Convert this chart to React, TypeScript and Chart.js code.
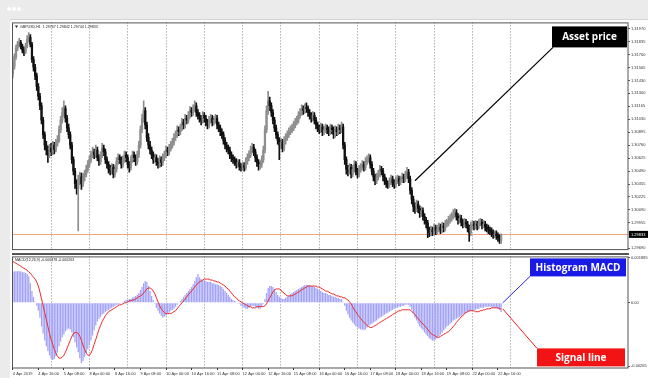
import React, { useEffect, useRef } from "react";
import { Chart, registerables } from "chart.js";
Chart.register(...registerables);

// ---------- axis / label data ----------
const SLOT_COUNT = 386; // hourly slots on the x axis (data + right-hand shift)
const tickBars = [0, 16, 32, 48, 64, 80, 96, 112, 128, 144, 160, 176, 192, 208, 224, 240, 256, 272, 288, 304];
const tickLabels = [
  "4 Apr 2019", "4 Apr 16:00", "5 Apr 08:00", "8 Apr 00:00", "8 Apr 16:00", "9 Apr 08:00",
  "10 Apr 00:00", "10 Apr 16:00", "11 Apr 08:00", "12 Apr 00:00", "12 Apr 16:00", "15 Apr 08:00",
  "16 Apr 00:00", "16 Apr 16:00", "17 Apr 08:00", "18 Apr 00:00", "18 Apr 16:00", "19 Apr 08:00",
  "22 Apr 00:00", "22 Apr 16:00",
];
const dayStartBars = [24, 48, 72, 96, 120, 144, 168, 192, 216, 240, 264, 288, 312];
const priceTicks = [1.3197, 1.31835, 1.317, 1.31565, 1.3143, 1.313, 1.31165, 1.3103, 1.30895, 1.3076, 1.30625, 1.3049, 1.30355, 1.30225, 1.3009, 1.29955, 1.2969];
const macdTicks = [0.001885, 0, -0.00265];
const macdTickLabels = ["0.001885", "0.00", "-0.00265"];
const currentPrice = 1.29833;
const symbolLabel = "GBPUSD,H1  1.29767 1.29842 1.29744 1.29833";
const macdLabel = "MACD(12,26,9) -0.000378 -0.000263";
const assetAnchorBar = 252;
const assetAnchorPrice = 1.3039;
const histAnchorBar = 307;
const histAnchorValue = 0;
const signalAnchorBar = 307;
const signalAnchorValue = -0.00025;

// ---------- GBPUSD H1 candles ----------
const opens = [
  1.3150, 1.3158, 1.3168, 1.3177, 1.3181, 1.3183, 1.3179, 1.3175, 1.3173, 1.3179,
  1.3186, 1.3188, 1.3181, 1.3165, 1.3157, 1.3148, 1.3137, 1.3127, 1.3117, 1.3102,
  1.3087, 1.3076, 1.3071, 1.3066, 1.3073, 1.3069, 1.3076, 1.3071, 1.3078, 1.3081,
  1.3092, 1.3102, 1.3110, 1.3114, 1.3104, 1.3094, 1.3087, 1.3076, 1.3061, 1.3049,
  1.3036, 1.3031, 1.3041, 1.3043, 1.3036, 1.3043, 1.3046, 1.3051, 1.3056, 1.3061,
  1.3066, 1.3069, 1.3066, 1.3071, 1.3063, 1.3059, 1.3066, 1.3073, 1.3069, 1.3061,
  1.3056, 1.3051, 1.3049, 1.3053, 1.3046, 1.3051, 1.3059, 1.3063, 1.3061, 1.3056,
  1.3061, 1.3066, 1.3063, 1.3056, 1.3053, 1.3061, 1.3066, 1.3063, 1.3059, 1.3066,
  1.3076, 1.3092, 1.3104, 1.3112, 1.3097, 1.3084, 1.3076, 1.3071, 1.3066, 1.3061,
  1.3063, 1.3059, 1.3056, 1.3061, 1.3058, 1.3063, 1.3066, 1.3071, 1.3069, 1.3073,
  1.3076, 1.3079, 1.3084, 1.3087, 1.3092, 1.3090, 1.3094, 1.3100, 1.3097, 1.3104,
  1.3102, 1.3107, 1.3112, 1.3110, 1.3114, 1.3117, 1.3110, 1.3107, 1.3104, 1.3102,
  1.3107, 1.3104, 1.3100, 1.3097, 1.3102, 1.3104, 1.3100, 1.3102, 1.3104, 1.3097,
  1.3094, 1.3090, 1.3087, 1.3081, 1.3076, 1.3073, 1.3071, 1.3066, 1.3063, 1.3061,
  1.3059, 1.3056, 1.3058, 1.3054, 1.3053, 1.3055, 1.3053, 1.3059, 1.3063, 1.3066,
  1.3071, 1.3074, 1.3069, 1.3063, 1.3058, 1.3054, 1.3056, 1.3061, 1.3071, 1.3092,
  1.3112, 1.3122, 1.3117, 1.3110, 1.3102, 1.3094, 1.3087, 1.3081, 1.3076, 1.3079,
  1.3073, 1.3081, 1.3084, 1.3087, 1.3090, 1.3092, 1.3094, 1.3097, 1.3100, 1.3102,
  1.3107, 1.3110, 1.3114, 1.3112, 1.3115, 1.3114, 1.3110, 1.3107, 1.3104, 1.3107,
  1.3102, 1.3097, 1.3094, 1.3092, 1.3095, 1.3090, 1.3092, 1.3094, 1.3092, 1.3090,
  1.3094, 1.3092, 1.3087, 1.3092, 1.3090, 1.3094, 1.3092, 1.3095, 1.3076, 1.3061,
  1.3051, 1.3049, 1.3053, 1.3046, 1.3051, 1.3056, 1.3049, 1.3046, 1.3051, 1.3053,
  1.3056, 1.3053, 1.3059, 1.3061, 1.3063, 1.3056, 1.3049, 1.3043, 1.3039, 1.3043,
  1.3046, 1.3051, 1.3049, 1.3043, 1.3039, 1.3036, 1.3035, 1.3038, 1.3041, 1.3037,
  1.3035, 1.3039, 1.3041, 1.3038, 1.3040, 1.3043, 1.3041, 1.3045, 1.3048, 1.3041,
  1.3029, 1.3020, 1.3012, 1.3010, 1.3015, 1.3010, 1.3005, 1.3008, 1.3002, 1.2998,
  1.2995, 1.2988, 1.2985, 1.2988, 1.2986, 1.2990, 1.2987, 1.2989, 1.2991, 1.2988,
  1.2992, 1.2990, 1.2994, 1.2995, 1.2998, 1.3000, 1.3002, 1.3005, 1.3006, 1.3002,
  1.2998, 1.3000, 1.2996, 1.2994, 1.2996, 1.2994, 1.2990, 1.2985, 1.2992, 1.2994,
  1.2992, 1.2994, 1.2992, 1.2995, 1.2996, 1.2993, 1.2994, 1.2991, 1.2990, 1.2988,
  1.2987, 1.2985, 1.2983, 1.2984, 1.2982, 1.2980, 1.2977,
];
const highs = [
  1.3162, 1.3171, 1.3180, 1.3184, 1.3187, 1.3185, 1.3181, 1.3178, 1.3182, 1.3190,
  1.3193, 1.3191, 1.3183, 1.3168, 1.3160, 1.3151, 1.3140, 1.3130, 1.3120, 1.3105,
  1.3090, 1.3080, 1.3075, 1.3077, 1.3078, 1.3080, 1.3079, 1.3082, 1.3086, 1.3096,
  1.3106, 1.3115, 1.3122, 1.3117, 1.3107, 1.3098, 1.3090, 1.3079, 1.3064, 1.3052,
  1.3040, 1.3045, 1.3048, 1.3047, 1.3047, 1.3050, 1.3055, 1.3060, 1.3065, 1.3070,
  1.3074, 1.3072, 1.3076, 1.3074, 1.3066, 1.3069, 1.3078, 1.3076, 1.3072, 1.3064,
  1.3059, 1.3055, 1.3057, 1.3056, 1.3055, 1.3063, 1.3067, 1.3066, 1.3064, 1.3065,
  1.3070, 1.3069, 1.3066, 1.3059, 1.3065, 1.3070, 1.3069, 1.3066, 1.3070, 1.3080,
  1.3096, 1.3108, 1.3122, 1.3115, 1.3100, 1.3088, 1.3080, 1.3074, 1.3069, 1.3067,
  1.3066, 1.3062, 1.3065, 1.3064, 1.3067, 1.3070, 1.3075, 1.3074, 1.3077, 1.3080,
  1.3083, 1.3088, 1.3091, 1.3096, 1.3095, 1.3098, 1.3104, 1.3103, 1.3108, 1.3107,
  1.3111, 1.3116, 1.3115, 1.3118, 1.3122, 1.3120, 1.3113, 1.3110, 1.3107, 1.3111,
  1.3110, 1.3107, 1.3103, 1.3106, 1.3108, 1.3107, 1.3106, 1.3108, 1.3107, 1.3100,
  1.3097, 1.3093, 1.3090, 1.3084, 1.3079, 1.3076, 1.3074, 1.3069, 1.3066, 1.3064,
  1.3062, 1.3061, 1.3061, 1.3057, 1.3058, 1.3058, 1.3063, 1.3067, 1.3070, 1.3075,
  1.3078, 1.3077, 1.3072, 1.3066, 1.3061, 1.3060, 1.3065, 1.3075, 1.3096, 1.3117,
  1.3132, 1.3126, 1.3120, 1.3113, 1.3105, 1.3097, 1.3090, 1.3084, 1.3083, 1.3082,
  1.3085, 1.3088, 1.3091, 1.3094, 1.3096, 1.3098, 1.3101, 1.3104, 1.3106, 1.3111,
  1.3114, 1.3118, 1.3117, 1.3119, 1.3120, 1.3117, 1.3113, 1.3110, 1.3111, 1.3110,
  1.3105, 1.3100, 1.3097, 1.3099, 1.3098, 1.3096, 1.3098, 1.3097, 1.3095, 1.3098,
  1.3097, 1.3095, 1.3096, 1.3095, 1.3098, 1.3097, 1.3100, 1.3098, 1.3079, 1.3064,
  1.3055, 1.3057, 1.3056, 1.3055, 1.3060, 1.3059, 1.3052, 1.3055, 1.3057, 1.3060,
  1.3059, 1.3063, 1.3065, 1.3067, 1.3066, 1.3059, 1.3052, 1.3046, 1.3047, 1.3050,
  1.3055, 1.3054, 1.3052, 1.3046, 1.3042, 1.3039, 1.3042, 1.3045, 1.3044, 1.3040,
  1.3043, 1.3045, 1.3044, 1.3044, 1.3047, 1.3046, 1.3049, 1.3053, 1.3051, 1.3044,
  1.3032, 1.3023, 1.3016, 1.3019, 1.3018, 1.3013, 1.3012, 1.3011, 1.3005, 1.3001,
  1.2998, 1.2991, 1.2992, 1.2991, 1.2994, 1.2993, 1.2993, 1.2995, 1.2994, 1.2996,
  1.2995, 1.2998, 1.2999, 1.3002, 1.3004, 1.3006, 1.3009, 1.3010, 1.3009, 1.3005,
  1.3004, 1.3003, 1.2999, 1.3000, 1.2999, 1.2997, 1.2993, 1.2996, 1.2998, 1.2997,
  1.2998, 1.2997, 1.2999, 1.3000, 1.2999, 1.2998, 1.2997, 1.2994, 1.2993, 1.2991,
  1.2990, 1.2988, 1.2987, 1.2987, 1.2985, 1.2983, 1.2984,
];
const lows = [
  1.3146, 1.3155, 1.3165, 1.3174, 1.3178, 1.3176, 1.3172, 1.3169, 1.3171, 1.3177,
  1.3183, 1.3178, 1.3162, 1.3153, 1.3144, 1.3133, 1.3123, 1.3113, 1.3098, 1.3083,
  1.3071, 1.3066, 1.3058, 1.3063, 1.3065, 1.3066, 1.3067, 1.3069, 1.3075, 1.3079,
  1.3089, 1.3099, 1.3106, 1.3100, 1.3090, 1.3083, 1.3072, 1.3057, 1.3045, 1.3031,
  1.3025, 1.2987, 1.3035, 1.3030, 1.3033, 1.3039, 1.3043, 1.3048, 1.3053, 1.3058,
  1.3063, 1.3062, 1.3063, 1.3060, 1.3055, 1.3056, 1.3063, 1.3065, 1.3057, 1.3052,
  1.3047, 1.3045, 1.3046, 1.3042, 1.3043, 1.3048, 1.3056, 1.3057, 1.3052, 1.3053,
  1.3058, 1.3059, 1.3052, 1.3048, 1.3050, 1.3058, 1.3059, 1.3055, 1.3056, 1.3063,
  1.3073, 1.3089, 1.3100, 1.3093, 1.3080, 1.3072, 1.3067, 1.3062, 1.3057, 1.3058,
  1.3055, 1.3052, 1.3053, 1.3054, 1.3055, 1.3060, 1.3063, 1.3065, 1.3066, 1.3070,
  1.3073, 1.3076, 1.3081, 1.3084, 1.3086, 1.3087, 1.3091, 1.3093, 1.3094, 1.3098,
  1.3099, 1.3104, 1.3106, 1.3107, 1.3111, 1.3106, 1.3103, 1.3100, 1.3097, 1.3099,
  1.3100, 1.3096, 1.3093, 1.3094, 1.3099, 1.3096, 1.3097, 1.3099, 1.3093, 1.3090,
  1.3086, 1.3083, 1.3077, 1.3072, 1.3069, 1.3067, 1.3062, 1.3059, 1.3057, 1.3055,
  1.3052, 1.3053, 1.3050, 1.3049, 1.3050, 1.3049, 1.3050, 1.3056, 1.3060, 1.3063,
  1.3068, 1.3065, 1.3059, 1.3054, 1.3050, 1.3051, 1.3053, 1.3058, 1.3068, 1.3089,
  1.3108, 1.3112, 1.3106, 1.3098, 1.3090, 1.3083, 1.3077, 1.3061, 1.3072, 1.3069,
  1.3070, 1.3077, 1.3081, 1.3084, 1.3087, 1.3089, 1.3091, 1.3094, 1.3097, 1.3099,
  1.3104, 1.3107, 1.3108, 1.3109, 1.3110, 1.3106, 1.3103, 1.3100, 1.3101, 1.3098,
  1.3093, 1.3090, 1.3088, 1.3089, 1.3086, 1.3087, 1.3089, 1.3088, 1.3086, 1.3087,
  1.3088, 1.3083, 1.3084, 1.3086, 1.3087, 1.3088, 1.3089, 1.3072, 1.3056, 1.3046,
  1.3044, 1.3046, 1.3042, 1.3043, 1.3048, 1.3045, 1.3042, 1.3043, 1.3048, 1.3050,
  1.3049, 1.3050, 1.3056, 1.3058, 1.3052, 1.3045, 1.3039, 1.3035, 1.3036, 1.3040,
  1.3043, 1.3045, 1.3039, 1.3035, 1.3032, 1.3031, 1.3032, 1.3035, 1.3033, 1.3031,
  1.3032, 1.3036, 1.3034, 1.3035, 1.3037, 1.3037, 1.3038, 1.3042, 1.3037, 1.3025,
  1.3015, 1.3007, 1.3005, 1.3007, 1.3006, 1.3001, 1.3002, 1.2998, 1.2994, 1.2990,
  1.2980, 1.2981, 1.2982, 1.2982, 1.2983, 1.2983, 1.2984, 1.2986, 1.2984, 1.2985,
  1.2986, 1.2987, 1.2991, 1.2992, 1.2995, 1.2997, 1.2999, 1.3001, 1.2998, 1.2994,
  1.2995, 1.2992, 1.2990, 1.2991, 1.2990, 1.2986, 1.2976, 1.2982, 1.2989, 1.2988,
  1.2989, 1.2988, 1.2989, 1.2992, 1.2989, 1.2990, 1.2987, 1.2986, 1.2984, 1.2983,
  1.2981, 1.2979, 1.2980, 1.2978, 1.2976, 1.2974, 1.2974,
];
const closes = [
  1.3158, 1.3168, 1.3177, 1.3181, 1.3183, 1.3179, 1.3175, 1.3173, 1.3179, 1.3186,
  1.3188, 1.3181, 1.3165, 1.3157, 1.3148, 1.3137, 1.3127, 1.3117, 1.3102, 1.3087,
  1.3076, 1.3071, 1.3066, 1.3073, 1.3069, 1.3076, 1.3071, 1.3078, 1.3081, 1.3092,
  1.3102, 1.3110, 1.3114, 1.3104, 1.3094, 1.3087, 1.3076, 1.3061, 1.3049, 1.3036,
  1.3031, 1.3041, 1.3043, 1.3036, 1.3043, 1.3046, 1.3051, 1.3056, 1.3061, 1.3066,
  1.3069, 1.3066, 1.3071, 1.3063, 1.3059, 1.3066, 1.3073, 1.3069, 1.3061, 1.3056,
  1.3051, 1.3049, 1.3053, 1.3046, 1.3051, 1.3059, 1.3063, 1.3061, 1.3056, 1.3061,
  1.3066, 1.3063, 1.3056, 1.3053, 1.3061, 1.3066, 1.3063, 1.3059, 1.3066, 1.3076,
  1.3092, 1.3104, 1.3112, 1.3097, 1.3084, 1.3076, 1.3071, 1.3066, 1.3061, 1.3063,
  1.3059, 1.3056, 1.3061, 1.3058, 1.3063, 1.3066, 1.3071, 1.3069, 1.3073, 1.3076,
  1.3079, 1.3084, 1.3087, 1.3092, 1.3090, 1.3094, 1.3100, 1.3097, 1.3104, 1.3102,
  1.3107, 1.3112, 1.3110, 1.3114, 1.3117, 1.3110, 1.3107, 1.3104, 1.3102, 1.3107,
  1.3104, 1.3100, 1.3097, 1.3102, 1.3104, 1.3100, 1.3102, 1.3104, 1.3097, 1.3094,
  1.3090, 1.3087, 1.3081, 1.3076, 1.3073, 1.3071, 1.3066, 1.3063, 1.3061, 1.3059,
  1.3056, 1.3058, 1.3054, 1.3053, 1.3055, 1.3053, 1.3059, 1.3063, 1.3066, 1.3071,
  1.3074, 1.3069, 1.3063, 1.3058, 1.3054, 1.3056, 1.3061, 1.3071, 1.3092, 1.3112,
  1.3122, 1.3117, 1.3110, 1.3102, 1.3094, 1.3087, 1.3081, 1.3076, 1.3079, 1.3073,
  1.3081, 1.3084, 1.3087, 1.3090, 1.3092, 1.3094, 1.3097, 1.3100, 1.3102, 1.3107,
  1.3110, 1.3114, 1.3112, 1.3115, 1.3114, 1.3110, 1.3107, 1.3104, 1.3107, 1.3102,
  1.3097, 1.3094, 1.3092, 1.3095, 1.3090, 1.3092, 1.3094, 1.3092, 1.3090, 1.3094,
  1.3092, 1.3087, 1.3092, 1.3090, 1.3094, 1.3092, 1.3095, 1.3076, 1.3061, 1.3051,
  1.3049, 1.3053, 1.3046, 1.3051, 1.3056, 1.3049, 1.3046, 1.3051, 1.3053, 1.3056,
  1.3053, 1.3059, 1.3061, 1.3063, 1.3056, 1.3049, 1.3043, 1.3039, 1.3043, 1.3046,
  1.3051, 1.3049, 1.3043, 1.3039, 1.3036, 1.3035, 1.3038, 1.3041, 1.3037, 1.3035,
  1.3039, 1.3041, 1.3038, 1.3040, 1.3043, 1.3041, 1.3045, 1.3048, 1.3041, 1.3029,
  1.3020, 1.3012, 1.3010, 1.3015, 1.3010, 1.3005, 1.3008, 1.3002, 1.2998, 1.2995,
  1.2988, 1.2985, 1.2988, 1.2986, 1.2990, 1.2987, 1.2989, 1.2991, 1.2988, 1.2992,
  1.2990, 1.2994, 1.2995, 1.2998, 1.3000, 1.3002, 1.3005, 1.3006, 1.3002, 1.2998,
  1.3000, 1.2996, 1.2994, 1.2996, 1.2994, 1.2990, 1.2985, 1.2992, 1.2994, 1.2992,
  1.2994, 1.2992, 1.2995, 1.2996, 1.2993, 1.2994, 1.2991, 1.2990, 1.2988, 1.2987,
  1.2985, 1.2983, 1.2984, 1.2982, 1.2980, 1.2977, 1.2983,
];

// ---------- MACD(12,26,9) ----------
const macdHist = [
  0.00128, 0.00132, 0.00132, 0.00132, 0.00132, 0.00132, 0.00128, 0.00128, 0.00124, 0.00120,
  0.00111, 0.00082, 0.00049, 0.00025, 0.00004, -0.00012, -0.00033, -0.00062, -0.00099, -0.00128,
  -0.00157, -0.00181, -0.00202, -0.00219, -0.00231, -0.00239, -0.00235, -0.00223, -0.00206, -0.00181,
  -0.00161, -0.00144, -0.00132, -0.00120, -0.00111, -0.00107, -0.00111, -0.00124, -0.00144, -0.00165,
  -0.00186, -0.00206, -0.00231, -0.00252, -0.00243, -0.00227, -0.00210, -0.00194, -0.00177, -0.00157,
  -0.00136, -0.00115, -0.00095, -0.00078, -0.00066, -0.00058, -0.00049, -0.00045, -0.00037, -0.00033,
  -0.00029, -0.00025, -0.00021, -0.00016, -0.00012, -0.00008, -0.00008, -0.00004, -0.00001, 0.00004,
  0.00008, 0.00012, 0.00012, 0.00016, 0.00016, 0.00021, 0.00025, 0.00029, 0.00033, 0.00041,
  0.00054, 0.00066, 0.00082, 0.00091, 0.00087, 0.00070, 0.00049, 0.00029, 0.00012, -0.00004,
  -0.00021, -0.00033, -0.00045, -0.00054, -0.00062, -0.00058, -0.00054, -0.00045, -0.00041, -0.00033,
  -0.00029, -0.00025, -0.00016, -0.00008, 0.00001, 0.00008, 0.00016, 0.00025, 0.00033, 0.00041,
  0.00049, 0.00058, 0.00066, 0.00078, 0.00091, 0.00107, 0.00120, 0.00107, 0.00099, 0.00095,
  0.00091, 0.00091, 0.00087, 0.00087, 0.00087, 0.00082, 0.00082, 0.00078, 0.00078, 0.00074,
  0.00070, 0.00066, 0.00058, 0.00049, 0.00041, 0.00033, 0.00025, 0.00016, 0.00012, 0.00008,
  0.00004, -0.00001, -0.00004, -0.00012, -0.00016, -0.00021, -0.00025, -0.00025, -0.00021, -0.00016,
  -0.00012, -0.00012, -0.00016, -0.00021, -0.00025, -0.00025, -0.00016, -0.00004, 0.00016, 0.00041,
  0.00062, 0.00070, 0.00070, 0.00066, 0.00058, 0.00045, 0.00033, 0.00025, 0.00021, 0.00016,
  0.00016, 0.00021, 0.00025, 0.00029, 0.00037, 0.00041, 0.00045, 0.00049, 0.00054, 0.00058,
  0.00062, 0.00066, 0.00070, 0.00074, 0.00074, 0.00074, 0.00074, 0.00070, 0.00070, 0.00066,
  0.00062, 0.00058, 0.00054, 0.00049, 0.00045, 0.00041, 0.00041, 0.00037, 0.00033, 0.00033,
  0.00029, 0.00025, 0.00025, 0.00021, 0.00021, 0.00016, 0.00016, 0.00004, -0.00012, -0.00033,
  -0.00049, -0.00062, -0.00074, -0.00082, -0.00091, -0.00099, -0.00103, -0.00107, -0.00111, -0.00111,
  -0.00115, -0.00111, -0.00103, -0.00095, -0.00091, -0.00087, -0.00082, -0.00078, -0.00074, -0.00066,
  -0.00062, -0.00058, -0.00054, -0.00049, -0.00045, -0.00041, -0.00037, -0.00033, -0.00029, -0.00025,
  -0.00021, -0.00021, -0.00016, -0.00016, -0.00012, -0.00012, -0.00008, -0.00008, -0.00008, -0.00016,
  -0.00029, -0.00045, -0.00062, -0.00074, -0.00087, -0.00099, -0.00107, -0.00115, -0.00124, -0.00132,
  -0.00140, -0.00148, -0.00153, -0.00157, -0.00157, -0.00153, -0.00148, -0.00140, -0.00132, -0.00124,
  -0.00115, -0.00107, -0.00099, -0.00095, -0.00087, -0.00082, -0.00074, -0.00070, -0.00066, -0.00062,
  -0.00058, -0.00054, -0.00049, -0.00045, -0.00041, -0.00037, -0.00037, -0.00033, -0.00033, -0.00029,
  -0.00029, -0.00025, -0.00025, -0.00021, -0.00021, -0.00021, -0.00016, -0.00016, -0.00016, -0.00016,
  -0.00016, -0.00021, -0.00021, -0.00021, -0.00025, -0.00029, -0.000378,
];
const macdSignal = [
  0.00173, 0.00169, 0.00165, 0.00161, 0.00157, 0.00153, 0.00148, 0.00144, 0.00140, 0.00136,
  0.00128, 0.00124, 0.00115, 0.00107, 0.00099, 0.00087, 0.00070, 0.00045, 0.00016, -0.00012,
  -0.00041, -0.00070, -0.00099, -0.00128, -0.00153, -0.00173, -0.00194, -0.00210, -0.00223, -0.00231,
  -0.00231, -0.00227, -0.00219, -0.00206, -0.00190, -0.00173, -0.00157, -0.00140, -0.00128, -0.00124,
  -0.00124, -0.00128, -0.00140, -0.00157, -0.00177, -0.00194, -0.00210, -0.00219, -0.00219, -0.00210,
  -0.00194, -0.00173, -0.00153, -0.00132, -0.00111, -0.00095, -0.00078, -0.00066, -0.00054, -0.00045,
  -0.00037, -0.00033, -0.00029, -0.00025, -0.00021, -0.00016, -0.00012, -0.00008, -0.00008, -0.00004,
  0.00000, 0.00000, 0.00004, 0.00008, 0.00008, 0.00012, 0.00012, 0.00016, 0.00021, 0.00025,
  0.00029, 0.00033, 0.00041, 0.00049, 0.00058, 0.00062, 0.00062, 0.00058, 0.00049, 0.00037,
  0.00021, 0.00004, -0.00012, -0.00025, -0.00033, -0.00041, -0.00045, -0.00045, -0.00045, -0.00045,
  -0.00041, -0.00037, -0.00033, -0.00025, -0.00016, -0.00008, 0.00000, 0.00008, 0.00016, 0.00025,
  0.00033, 0.00041, 0.00049, 0.00058, 0.00066, 0.00074, 0.00082, 0.00087, 0.00091, 0.00095,
  0.00099, 0.00099, 0.00099, 0.00099, 0.00095, 0.00095, 0.00091, 0.00091, 0.00087, 0.00087,
  0.00082, 0.00078, 0.00074, 0.00070, 0.00062, 0.00058, 0.00049, 0.00041, 0.00033, 0.00025,
  0.00021, 0.00012, 0.00008, 0.00004, 0.00000, -0.00004, -0.00008, -0.00012, -0.00016, -0.00016,
  -0.00021, -0.00021, -0.00021, -0.00016, -0.00016, -0.00016, -0.00016, -0.00016, -0.00012, -0.00004,
  0.00008, 0.00021, 0.00033, 0.00045, 0.00054, 0.00058, 0.00058, 0.00058, 0.00054, 0.00045,
  0.00041, 0.00033, 0.00029, 0.00029, 0.00029, 0.00029, 0.00033, 0.00037, 0.00041, 0.00045,
  0.00049, 0.00054, 0.00058, 0.00062, 0.00066, 0.00070, 0.00070, 0.00070, 0.00070, 0.00070,
  0.00070, 0.00066, 0.00066, 0.00062, 0.00058, 0.00054, 0.00049, 0.00049, 0.00045, 0.00041,
  0.00037, 0.00037, 0.00033, 0.00029, 0.00029, 0.00025, 0.00025, 0.00021, 0.00021, 0.00016,
  0.00012, 0.00004, -0.00004, -0.00016, -0.00029, -0.00037, -0.00049, -0.00058, -0.00066, -0.00074,
  -0.00082, -0.00087, -0.00095, -0.00099, -0.00103, -0.00103, -0.00099, -0.00095, -0.00091, -0.00087,
  -0.00082, -0.00078, -0.00074, -0.00070, -0.00066, -0.00062, -0.00058, -0.00054, -0.00049, -0.00045,
  -0.00041, -0.00037, -0.00033, -0.00033, -0.00029, -0.00029, -0.00029, -0.00029, -0.00029, -0.00029,
  -0.00037, -0.00041, -0.00049, -0.00058, -0.00066, -0.00074, -0.00082, -0.00087, -0.00095, -0.00103,
  -0.00111, -0.00120, -0.00128, -0.00132, -0.00136, -0.00140, -0.00144, -0.00144, -0.00140, -0.00136,
  -0.00132, -0.00128, -0.00124, -0.00120, -0.00115, -0.00107, -0.00099, -0.00091, -0.00082, -0.00074,
  -0.00066, -0.00058, -0.00054, -0.00045, -0.00041, -0.00037, -0.00033, -0.00033, -0.00033, -0.00033,
  -0.00037, -0.00037, -0.00037, -0.00033, -0.00033, -0.00029, -0.00029, -0.00025, -0.00025, -0.00025,
  -0.00021, -0.00021, -0.00021, -0.00021, -0.00021, -0.00025, -0.000263,
];

// ---------- styling ----------
const FONT = '"Liberation Sans", Arial, sans-serif';
const BOX_FONT = 'bold 10px "Open Sans", "Liberation Sans", sans-serif';
const BULL = "#8e8e8e";
const BEAR = "#111111";
const GRID = "#8a8a8a";
const FRAME = "#555555";
const dayStartSet = new Set(dayStartBars);
const tickLabelMap = new Map(tickBars.map((b, k) => [b, tickLabels[k]] as [number, string]));
const slots = Array.from({ length: SLOT_COUNT }, (_, i) => String(i));

function drawBox(ctx: CanvasRenderingContext2D, x: number, y: number, w: number, h: number, fill: string, text: string) {
  ctx.fillStyle = fill;
  ctx.fillRect(x, y, w, h);
  ctx.fillStyle = "#ffffff";
  ctx.font = BOX_FONT;
  ctx.textAlign = "center";
  ctx.textBaseline = "middle";
  ctx.fillText(text, x + w / 2, y + h / 2 + 0.5);
}

function drawLine(ctx: CanvasRenderingContext2D, x1: number, y1: number, x2: number, y2: number, color: string, width: number) {
  ctx.strokeStyle = color;
  ctx.lineWidth = width;
  ctx.setLineDash([]);
  ctx.beginPath();
  ctx.moveTo(x1, y1);
  ctx.lineTo(x2, y2);
  ctx.stroke();
}

const topOverlay = {
  id: "topOverlay",
  beforeDatasetsDraw(chart: any) {
    const { ctx, chartArea: a, scales } = chart;
    const y = Math.round(scales.y.getPixelForValue(currentPrice)) + 0.5;
    ctx.save();
    drawLine(ctx, a.left, y, a.right, y, "#f2a47c", 1);
    ctx.restore();
  },
  afterDraw(chart: any) {
    const { ctx, chartArea: a, scales } = chart;
    ctx.save();
    ctx.strokeStyle = FRAME;
    ctx.lineWidth = 1;
    ctx.strokeRect(a.left + 0.5, a.top + 0.5, a.right - a.left - 0.5, a.bottom - a.top - 0.5);
    // current price tag
    const py = scales.y.getPixelForValue(currentPrice);
    ctx.fillStyle = "#000";
    ctx.fillRect(a.right + 1, py - 3.5, 19, 7);
    ctx.fillStyle = "#fff";
    ctx.font = `4px ${FONT}`;
    ctx.textAlign = "left";
    ctx.textBaseline = "middle";
    ctx.fillText(currentPrice.toFixed(5), a.right + 3, py);
    // symbol legend
    ctx.fillStyle = "#222";
    ctx.beginPath();
    ctx.moveTo(a.left + 3, a.top + 3);
    ctx.lineTo(a.left + 6, a.top + 3);
    ctx.lineTo(a.left + 4.5, a.top + 5.5);
    ctx.closePath();
    ctx.fill();
    ctx.font = `3.6px ${FONT}`;
    ctx.fillText(symbolLabel, a.left + 8, a.top + 4.3);
    // "Asset price" callout
    const bw = 75, bh = 21;
    const bx = a.right - 1 - bw, by = a.top + 4;
    const ax = scales.x.getPixelForValue(assetAnchorBar);
    const ay = scales.y.getPixelForValue(assetAnchorPrice);
    drawLine(ctx, ax, ay, bx + 1, by + bh, "#000", 1.2);
    drawBox(ctx, bx, by, bw, bh, "#000000", "Asset price");
    ctx.restore();
  },
};

const bottomOverlay = {
  id: "bottomOverlay",
  afterDraw(chart: any) {
    const { ctx, chartArea: a, scales } = chart;
    ctx.save();
    ctx.fillStyle = FRAME;
    ctx.fillRect(a.left, 0, a.right - a.left + 1, 2);
    ctx.strokeStyle = FRAME;
    ctx.lineWidth = 1;
    ctx.strokeRect(a.left + 0.5, a.top + 0.5, a.right - a.left - 0.5, a.bottom - a.top - 0.5);
    ctx.fillStyle = "#222";
    ctx.font = `3.6px ${FONT}`;
    ctx.textAlign = "left";
    ctx.textBaseline = "middle";
    ctx.fillText(macdLabel, a.left + 3, a.top + 4);
    // "Histogram MACD" callout
    const hw = 96, hh = 18;
    const hx = a.right - 2 - hw, hy = a.top + 2;
    const hax = scales.x.getPixelForValue(histAnchorBar);
    const hay = scales.y.getPixelForValue(histAnchorValue);
    drawLine(ctx, hx, hy + hh, hax, hay, "#2626d8", 1);
    drawBox(ctx, hx, hy, hw, hh, "#1a1ae6", "Histogram MACD");
    // "Signal line" callout
    const sw = 88, sh = 18;
    const sx = a.right - 3 - sw, sy = a.top + 92;
    const sax = scales.x.getPixelForValue(signalAnchorBar);
    const say = scales.y.getPixelForValue(signalAnchorValue);
    drawLine(ctx, sx, sy, sax, say, "#ee1c1c", 1);
    drawBox(ctx, sx, sy, sw, sh, "#f21414", "Signal line");
    ctx.restore();
  },
};

const candleColors = closes.map((c, i) => (c >= opens[i] ? BULL : BEAR));

function xScale(showLabels: boolean) {
  return {
    type: "category",
    offset: true,
    grid: {
      offset: false,
      color: (ctx: any) => (dayStartSet.has(ctx.index) ? GRID : "rgba(0,0,0,0)"),
      tickColor: (ctx: any) => (tickLabelMap.has(ctx.index) ? "#333" : "rgba(0,0,0,0)"),
      lineWidth: 1,
      drawTicks: showLabels,
      tickLength: 2,
    },
    border: { display: false, dash: [1, 2] },
    ticks: {
      display: showLabels,
      autoSkip: false,
      maxRotation: 0,
      minRotation: 0,
      align: "start",
      padding: 1,
      color: "#333",
      font: { size: 4, family: FONT },
      callback: (_v: any, i: number) => tickLabelMap.get(i) ?? "",
    },
    afterFit: (s: any) => {
      s.height = showLabels ? 10 : 0;
    },
  };
}

function yScale(min: number, max: number, values: number[], fmt: (v: number) => string) {
  return {
    position: "right",
    min,
    max,
    beginAtZero: false,
    afterBuildTicks: (s: any) => {
      s.ticks = values.map((v) => ({ value: v }));
    },
    grid: { display: true, drawOnChartArea: false, drawTicks: true, tickLength: 2, color: "#555" },
    border: { display: false },
    ticks: {
      autoSkip: false,
      padding: 1,
      color: "#333",
      font: { size: 4, family: FONT },
      callback: (v: any) => fmt(Number(v)),
    },
    afterFit: (s: any) => {
      s.width = 20;
    },
  };
}

export default function App() {
  const topRef = useRef<HTMLCanvasElement>(null);
  const botRef = useRef<HTMLCanvasElement>(null);

  useEffect(() => {
    document.body.style.margin = "0";
    Chart.defaults.font.family = FONT;
    const common = {
      animation: false,
      responsive: false,
      devicePixelRatio: 1,
      events: [],
      plugins: { legend: { display: false }, tooltip: { enabled: false } },
    };
    const top = new Chart(topRef.current as HTMLCanvasElement, {
      type: "bar",
      data: {
        labels: slots,
        datasets: [
          {
            label: "Body",
            data: opens.map((o, i) => [o, closes[i]]),
            backgroundColor: candleColors,
            grouped: false,
            barPercentage: 1,
            categoryPercentage: 1,
            order: 0,
          },
          {
            label: "Wick",
            data: lows.map((l, i) => [l, highs[i]]),
            backgroundColor: candleColors,
            grouped: false,
            barThickness: 1,
            order: 1,
          },
        ],
      },
      options: {
        ...common,
        layout: { padding: { left: 2, top: 1, bottom: 1, right: 0 } },
        scales: {
          x: xScale(false),
          y: yScale(1.29675, 1.32036, priceTicks, (v) => v.toFixed(5)),
        },
      } as any,
      plugins: [topOverlay],
    } as any);

    const bot = new Chart(botRef.current as HTMLCanvasElement, {
      type: "bar",
      data: {
        labels: slots,
        datasets: [
          {
            type: "line",
            label: "Signal",
            data: macdSignal,
            borderColor: "#ec2a2a",
            borderWidth: 1,
            pointRadius: 0,
            tension: 0,
            order: 0,
          },
          {
            type: "bar",
            label: "MACD",
            data: macdHist,
            backgroundColor: "#a2a2f6",
            barPercentage: 0.8,
            categoryPercentage: 1,
            order: 1,
          },
        ],
      },
      options: {
        ...common,
        layout: { padding: { left: 2, top: 2, bottom: 0, right: 0 } },
        scales: {
          x: xScale(true),
          y: yScale(-0.002721, 0.001938, macdTicks, (v) => {
            const k = macdTicks.indexOf(v);
            return k >= 0 ? macdTickLabels[k] : "";
          }),
        },
      } as any,
      plugins: [bottomOverlay],
    } as any);

    return () => {
      top.destroy();
      bot.destroy();
    };
  }, []);

  return (
    <div style={{ position: "fixed", left: 0, top: 0, width: 648, height: 378, background: "#ebebeb", overflow: "hidden" }}>
      {[8.5, 13.5, 18.5].map((x) => (
        <div key={x} style={{ position: "absolute", left: x - 2, top: 7, width: 4, height: 4, borderRadius: "50%", background: "#ffffff" }} />
      ))}
      <div style={{ position: "absolute", left: 10, top: 19, width: 638, height: 359, background: "#ffffff", borderTop: "1px solid #d4d4d4", boxSizing: "border-box" }} />
      <canvas ref={topRef} width={638} height={234} style={{ position: "absolute", left: 10, top: 19, width: 638, height: 234 }} />
      <canvas ref={botRef} width={638} height={125} style={{ position: "absolute", left: 10, top: 253, width: 638, height: 125 }} />
    </div>
  );
}
